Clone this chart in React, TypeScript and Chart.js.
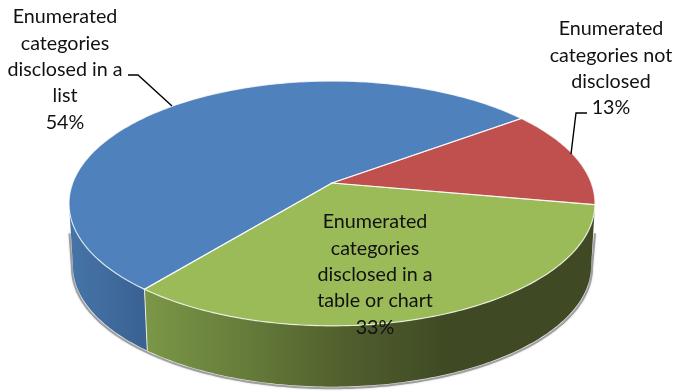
import React, { useEffect, useRef } from "react";
import { Chart, registerables } from "chart.js";

Chart.register(...registerables);

const categories: string[][] = [
  ["Enumerated", "categories", "disclosed in a", "list"],
  ["Enumerated", "categories not", "disclosed"],
  ["Enumerated", "categories", "disclosed in a", "table or chart"],
];
const shares = [54, 13, 33];
const faceColors = ["#4F81BD", "#C0504D", "#9BBB59"];

// Perspective of the tilted disc: unit-circle points map to the page through these.
const top = { cx: 332, cy: 183, a: 259.3, b: 119, k: 0.167 };
const base = { cx: 332, cy: 246, a: 255.4, b: 117.2, k: 0.167 };

const labelPlaces = [
  { x: 65, y: 17, leader: [[128, 75], [138, 75], [172, 106]] },
  { x: 611, y: 29, leader: [[587, 113], [576, 113], [571, 154]] },
  { x: 375, y: 222, leader: [] as number[][] },
];
const LINE_HEIGHT = 26.3;

function project(p: typeof top, angle: number) {
  const u = Math.cos(angle);
  const v = Math.sin(angle);
  const w = 1 - p.k * v;
  return { x: p.cx + (p.a * u) / w, y: p.cy + (p.b * v) / w };
}

function traceArc(ctx: CanvasRenderingContext2D, p: typeof top, from: number, to: number, first: boolean) {
  const steps = Math.max(8, Math.ceil(Math.abs(to - from) * 60));
  for (let i = 0; i <= steps; i++) {
    const pt = project(p, from + ((to - from) * i) / steps);
    if (i === 0 && first) ctx.moveTo(pt.x, pt.y);
    else ctx.lineTo(pt.x, pt.y);
  }
}

function wallGradient(ctx: CanvasRenderingContext2D, index: number) {
  if (index === 0) {
    const g = ctx.createLinearGradient(70, 0, 143, 0);
    g.addColorStop(0, "#4674A8");
    g.addColorStop(1, "#3A6293");
    return g;
  }
  if (index === 1) return "#7A3331";
  const g = ctx.createLinearGradient(140, 0, 590, 0);
  g.addColorStop(0, "#7C9847");
  g.addColorStop(0.25, "#647A39");
  g.addColorStop(0.45, "#515F2D");
  g.addColorStop(0.68, "#3F4A24");
  g.addColorStop(1, "#3F4A24");
  return g;
}

// The rim is only seen between the two silhouette tangents of the disc.
const RIM_FROM = Math.asin(top.k);
const RIM_TO = Math.PI - RIM_FROM;

function visibleRim(startAngle: number, endAngle: number) {
  const turn = Math.PI * 2;
  const shift = Math.floor(startAngle / turn) * turn;
  const from = Math.max(startAngle - shift, RIM_FROM);
  const to = Math.min(endAngle - shift, RIM_TO);
  return from < to ? [from, to] : null;
}

// Paints the disc from the arc angles the pie controller computed.
const tiltedPie = {
  id: "tiltedPie",
  beforeDatasetsDraw(chart: any) {
    const ctx: CanvasRenderingContext2D = chart.ctx;
    const arcs = chart.getDatasetMeta(0).data as any[];
    ctx.save();

    // soft grey edge under the rim, running up both sides of the wall
    ctx.save();
    ctx.strokeStyle = "rgba(110,110,110,0.55)";
    ctx.lineWidth = 2;
    ctx.shadowColor = "rgba(90,90,90,0.6)";
    ctx.shadowBlur = 2;
    const edge = { ...base, cy: base.cy + 1.5, a: base.a + 1 };
    const leftTop = project(top, RIM_TO);
    const rightTop = project(top, RIM_FROM);
    ctx.beginPath();
    ctx.moveTo(leftTop.x + 0.5, leftTop.y + 30);
    traceArc(ctx, edge, RIM_TO, RIM_FROM, false);
    ctx.lineTo(rightTop.x, rightTop.y + 30);
    ctx.stroke();
    ctx.restore();

    // rim walls, far slices first
    [1, 0, 2].forEach((i) => {
      const span = visibleRim(arcs[i].startAngle, arcs[i].endAngle);
      if (!span) return;
      ctx.beginPath();
      traceArc(ctx, top, span[0], span[1], true);
      traceArc(ctx, base, span[1], span[0], false);
      ctx.closePath();
      ctx.fillStyle = wallGradient(ctx, i);
      ctx.fill();
    });

    // seam between the blue and green walls
    const seamAngle = arcs[0].startAngle;
    const a = project(top, seamAngle);
    const b = project(base, seamAngle);
    ctx.beginPath();
    ctx.moveTo(a.x, a.y);
    ctx.lineTo(b.x, b.y);
    ctx.strokeStyle = "rgba(255,255,255,0.8)";
    ctx.lineWidth = 1;
    ctx.stroke();

    // top faces
    arcs.forEach((arc, i) => {
      ctx.beginPath();
      ctx.moveTo(top.cx, top.cy);
      traceArc(ctx, top, arc.startAngle, arc.endAngle, false);
      ctx.closePath();
      ctx.fillStyle = faceColors[i];
      ctx.fill();
    });
    arcs.forEach((arc) => {
      ctx.beginPath();
      ctx.moveTo(top.cx, top.cy);
      traceArc(ctx, top, arc.startAngle, arc.endAngle, false);
      ctx.closePath();
      ctx.strokeStyle = "rgba(255,255,255,0.75)";
      ctx.lineWidth = 1.2;
      ctx.stroke();
    });

    ctx.restore();
    return false;
  },
  afterDraw(chart: any) {
    const ctx: CanvasRenderingContext2D = chart.ctx;
    ctx.save();
    ctx.strokeStyle = "#000";
    ctx.lineWidth = 1.4;
    labelPlaces.forEach((place) => {
      if (!place.leader.length) return;
      ctx.beginPath();
      place.leader.forEach(([x, y], i) => (i ? ctx.lineTo(x, y) : ctx.moveTo(x, y)));
      ctx.stroke();
    });
    ctx.fillStyle = "#111";
    ctx.font = "19.7px Lato";
    ctx.textAlign = "center";
    ctx.textBaseline = "middle";
    categories.forEach((lines, i) => {
      const place = labelPlaces[i];
      [...lines, `${shares[i]}%`].forEach((line, j) => {
        ctx.fillText(line, place.x, place.y + j * LINE_HEIGHT);
      });
    });
    ctx.restore();
  },
};

export default function App() {
  const ref = useRef<HTMLCanvasElement>(null);
  useEffect(() => {
    const chart = new Chart(ref.current!, {
      type: "pie",
      data: {
        labels: categories.map((c) => c.join(" ")),
        datasets: [{ data: shares, backgroundColor: faceColors }],
      },
      options: {
        responsive: false,
        animation: false,
        rotation: 219,
        plugins: { legend: { display: false }, tooltip: { enabled: false } },
      },
      plugins: [tiltedPie],
    });
    return () => chart.destroy();
  }, []);
  return (
    <div style={{ position: "absolute", left: 0, top: 0, width: 675, height: 392, background: "#fff" }}>
      <canvas ref={ref} width={675} height={392} style={{ display: "block" }} />
    </div>
  );
}
